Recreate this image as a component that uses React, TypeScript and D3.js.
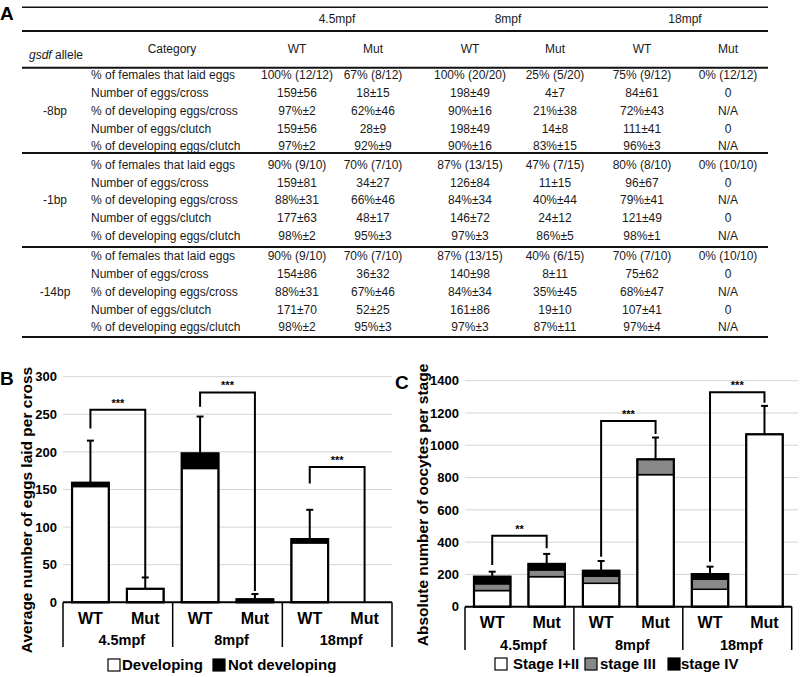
import React from "react";
import * as d3 from "d3";

// ---------- Table data (panel A) ----------
const timepoints = ["4.5mpf", "8mpf", "18mpf"];
const genotypes = ["WT", "Mut"];
const categories = [
  "% of females that laid eggs",
  "Number of eggs/cross",
  "% of developing eggs/cross",
  "Number of eggs/clutch",
  "% of developing eggs/clutch",
];
const alleles = ["-8bp", "-1bp", "-14bp"];
const rows8bp = [
  ["100% (12/12)", "67% (8/12)", "100% (20/20)", "25% (5/20)", "75% (9/12)", "0% (12/12)"],
  ["159±56", "18±15", "198±49", "4±7", "84±61", "0"],
  ["97%±2", "62%±46", "90%±16", "21%±38", "72%±43", "N/A"],
  ["159±56", "28±9", "198±49", "14±8", "111±41", "0"],
  ["97%±2", "92%±9", "90%±16", "83%±15", "96%±3", "N/A"],
];
const rows1bp = [
  ["90% (9/10)", "70% (7/10)", "87% (13/15)", "47% (7/15)", "80% (8/10)", "0% (10/10)"],
  ["159±81", "34±27", "126±84", "11±15", "96±67", "0"],
  ["88%±31", "66%±46", "84%±34", "40%±44", "79%±41", "N/A"],
  ["177±63", "48±17", "146±72", "24±12", "121±49", "0"],
  ["98%±2", "95%±3", "97%±3", "86%±5", "98%±1", "N/A"],
];
const rows14bp = [
  ["90% (9/10)", "70% (7/10)", "87% (13/15)", "40% (6/15)", "70% (7/10)", "0% (10/10)"],
  ["154±86", "36±32", "140±98", "8±11", "75±62", "0"],
  ["88%±31", "67%±46", "84%±34", "35%±45", "68%±47", "N/A"],
  ["171±70", "52±25", "161±86", "19±10", "107±41", "0"],
  ["98%±2", "95%±3", "97%±3", "87%±11", "97%±4", "N/A"],
];
const tableGroups = [rows8bp, rows1bp, rows14bp];

// ---------- Panel B data ----------
const bDeveloping = [154, 18, 178, 1, 79, 0];
const bNotDeveloping = [5, 0, 20, 3, 5, 0];
const bError = [56, 15, 49, 7, 39, 0];
const bTicks = [0, 50, 100, 150, 200, 250, 300];
const bSigLabels = ["***", "***", "***"];
const bSigTop = [256, 279, 180];
const bSigLeft = [231, 260, 158];
const bSigRight = [33, 15, 0];

// ---------- Panel C data ----------
const cStage12 = [100, 186, 145, 818, 108, 1068];
const cStage3 = [42, 42, 45, 95, 62, 0];
const cStage4 = [44, 37, 33, 0, 32, 0];
const cError = [31, 62, 60, 135, 46, 176];
const cTicks = [0, 200, 400, 600, 800, 1000, 1200, 1400];
const cSigLabels = ["**", "***", "***"];
const cSigTop = [440, 1150, 1328];
const cSigLeft = [258, 310, 279];
const cSigRight = [362, 1070, 1264];

const FONT = "'Liberation Sans', Arial, Helvetica, sans-serif";

function Table() {
  const x0 = 22, x1 = 768;
  const colX = [297, 373, 470, 555, 642, 728];
  const groupX = [337, 508, 685];
  const groupStart = [75, 164.5, 256];
  const rowStep = 17.8;
  const lines = [7.3, 31, 67.7, 153, 247, 337];
  const fs = 12;
  return (
    <g fontFamily={FONT} fontSize={fs} fill="#1a1a1a">
      <text x={0} y={20} fontSize={19} fontWeight="bold" fill="#000">A</text>
      {lines.map((y, i) => (
        <line key={i} x1={x0} x2={x1} y1={y} y2={y} stroke="#111" strokeWidth={i === 0 ? 1.5 : 2} />
      ))}
      {timepoints.map((t, i) => (
        <text key={t} x={groupX[i]} y={19} dy="0.35em" textAnchor="middle">{t}</text>
      ))}
      <text x={29} y={55} dy="0.35em">
        <tspan fontStyle="italic">gsdf</tspan> allele
      </text>
      <text x={172} y={49} dy="0.35em" textAnchor="middle">Category</text>
      {colX.map((cx, i) => (
        <text key={i} x={cx} y={49} dy="0.35em" textAnchor="middle">{genotypes[i % 2]}</text>
      ))}
      {tableGroups.map((rows, g) => (
        <g key={g}>
          <text x={55} y={groupStart[g] + 2 * rowStep} dy="0.35em" textAnchor="middle">{alleles[g]}</text>
          {rows.map((row, r) => {
            const y = groupStart[g] + r * rowStep;
            return (
              <g key={r}>
                <text x={91} y={y} dy="0.35em">{categories[r]}</text>
                {row.map((v, c) => (
                  <text key={c} x={colX[c]} y={y} dy="0.35em" textAnchor="middle">{v}</text>
                ))}
              </g>
            );
          })}
        </g>
      ))}
    </g>
  );
}

type Seg = { values: number[]; fill: string };

function BarPanel(props: {
  letter: string;
  letterX: number;
  x0: number;
  x1: number;
  yBase: number;
  yTop: number;
  max: number;
  ticks: number[];
  segs: Seg[];
  errors: number[];
  sigLabels: string[];
  sigTop: number[];
  sigLeft: number[];
  sigRight: number[];
  boxBottom: number;
  yTitle: string;
  yTitleX: number;
  yTitleY: number;
  legend: { label: string; fill: string; x: number; tx: number }[];
  legendY: number;
  gridRight: number;
}) {
  const p = props;
  const y = d3.scaleLinear().domain([0, p.max]).range([p.yBase, p.yTop]);
  const slots = d3.range(6);
  const x = d3.scaleBand<number>().domain(slots).range([p.x0, p.x1]).paddingInner(0.33).paddingOuter(0.165);
  const groupScale = d3.scaleBand<number>().domain([0, 1, 2]).range([p.x0, p.x1]);
  const cx = (i: number) => (x(i) as number) + x.bandwidth() / 2;
  const totals = slots.map((i) => d3.sum(p.segs, (s) => s.values[i]));
  return (
    <g fontFamily={FONT} fontWeight="bold">
      <text x={p.letterX} y={p.yTop + 8} fontSize={19}>{p.letter}</text>
      {p.ticks.filter((t) => t > 0).map((t) => (
        <line key={t} x1={p.x0} x2={p.gridRight} y1={y(t)} y2={y(t)} stroke="#d4d4d4" strokeWidth={1} />
      ))}
      {p.ticks.map((t) => (
        <text key={t} x={p.x0 - 6} y={y(t)} dy="0.36em" textAnchor="end" fontSize={13}>{t}</text>
      ))}
      <text
        transform={`translate(${p.yTitleX},${p.yTitleY}) rotate(-90)`}
        textAnchor="middle"
        fontSize={15.5}
      >
        {p.yTitle}
      </text>
      {slots.map((i) => {
        let acc = 0;
        return (
          <g key={i}>
            {p.segs.map((s, k) => {
              const v = s.values[i];
              const yb = y(acc);
              acc += v;
              const yt = y(acc);
              if (v <= 0) return null;
              return (
                <rect key={k} x={x(i)} y={yt} width={x.bandwidth()} height={yb - yt} fill={s.fill} stroke="#000" strokeWidth={1.5} />
              );
            })}
            {totals[i] > 0 && (
              <rect x={x(i)} y={y(totals[i])} width={x.bandwidth()} height={p.yBase - y(totals[i])} fill="none" stroke="#000" strokeWidth={2.2} />
            )}
            {p.errors[i] > 0 && (
              <g stroke="#000" strokeWidth={2}>
                <line x1={cx(i)} x2={cx(i)} y1={y(totals[i])} y2={y(totals[i] + p.errors[i])} />
                <line x1={cx(i) - 3.5} x2={cx(i) + 3.5} y1={y(totals[i] + p.errors[i])} y2={y(totals[i] + p.errors[i])} />
              </g>
            )}
          </g>
        );
      })}
      {p.sigLabels.map((lab, g) => {
        const xl = cx(2 * g), xr = cx(2 * g + 1);
        const yt = y(p.sigTop[g]);
        return (
          <g key={g}>
            <path
              d={`M${xl},${y(p.sigLeft[g])}V${yt}H${xr}V${y(p.sigRight[g])}`}
              fill="none"
              stroke="#000"
              strokeWidth={2}
            />
            <text x={(xl + xr) / 2} y={yt - 3} textAnchor="middle" fontSize={11}>{lab}</text>
          </g>
        );
      })}
      <line x1={p.x0} x2={p.x1} y1={p.yBase} y2={p.yBase} stroke="#000" strokeWidth={2} />
      {[0, 1, 2, 3].map((k) => {
        const xx = k < 3 ? (groupScale(k) as number) : p.x1;
        return <line key={k} x1={xx} x2={xx} y1={p.yBase} y2={p.boxBottom} stroke="#000" strokeWidth={1.5} />;
      })}
      {slots.map((i) => (
        <text key={i} x={cx(i)} y={p.yBase + 16} dy="0.35em" textAnchor="middle" fontSize={16}>{genotypes[i % 2]}</text>
      ))}
      {timepoints.map((t, g) => (
        <text key={t} x={(groupScale(g) as number) + groupScale.bandwidth() / 2 + 4} y={p.yBase + 38} dy="0.35em" textAnchor="middle" fontSize={14.5}>{t}</text>
      ))}
      {p.legend.map((l) => (
        <g key={l.label}>
          <rect x={l.x} y={p.legendY - 6} width={12} height={12} fill={l.fill} stroke="#000" strokeWidth={1.2} />
          <text x={l.tx} y={p.legendY} dy="0.36em" fontSize={15}>{l.label}</text>
        </g>
      ))}
    </g>
  );
}

export default function App() {
  return (
    <svg width={800} height={677} style={{ position: "absolute", left: 0, top: 0, background: "#fff" }}>
      <rect width={800} height={677} fill="#fff" />
      <Table />
      <BarPanel
        letter="B"
        letterX={0}
        x0={63}
        x1={392}
        yBase={602.3}
        yTop={376.7}
        max={300}
        ticks={bTicks}
        segs={[
          { values: bDeveloping, fill: "#fff" },
          { values: bNotDeveloping, fill: "#000" },
        ]}
        errors={bError}
        sigLabels={bSigLabels}
        sigTop={bSigTop}
        sigLeft={bSigLeft}
        sigRight={bSigRight}
        boxBottom={647}
        yTitle="Average number of eggs laid per cross"
        yTitleX={32}
        yTitleY={510}
        legend={[
          { label: "Developing", fill: "#fff", x: 108, tx: 122 },
          { label: "Not developing", fill: "#000", x: 213, tx: 228 },
        ]}
        legendY={665}
        gridRight={392}
      />
      <BarPanel
        letter="C"
        letterX={395}
        x0={465}
        x1={791.7}
        yBase={606.7}
        yTop={380.7}
        max={1400}
        ticks={cTicks}
        segs={[
          { values: cStage12, fill: "#fff" },
          { values: cStage3, fill: "#888" },
          { values: cStage4, fill: "#000" },
        ]}
        errors={cError}
        sigLabels={cSigLabels}
        sigTop={cSigTop}
        sigLeft={cSigLeft}
        sigRight={cSigRight}
        boxBottom={650}
        yTitle="Absolute number of oocytes per stage"
        yTitleX={428}
        yTitleY={505}
        legend={[
          { label: "Stage I+II", fill: "#fff", x: 495, tx: 513 },
          { label: "stage III", fill: "#888", x: 585, tx: 600 },
          { label: "stage IV", fill: "#000", x: 668, tx: 681 },
        ]}
        legendY={664}
        gridRight={798}
      />
    </svg>
  );
}
